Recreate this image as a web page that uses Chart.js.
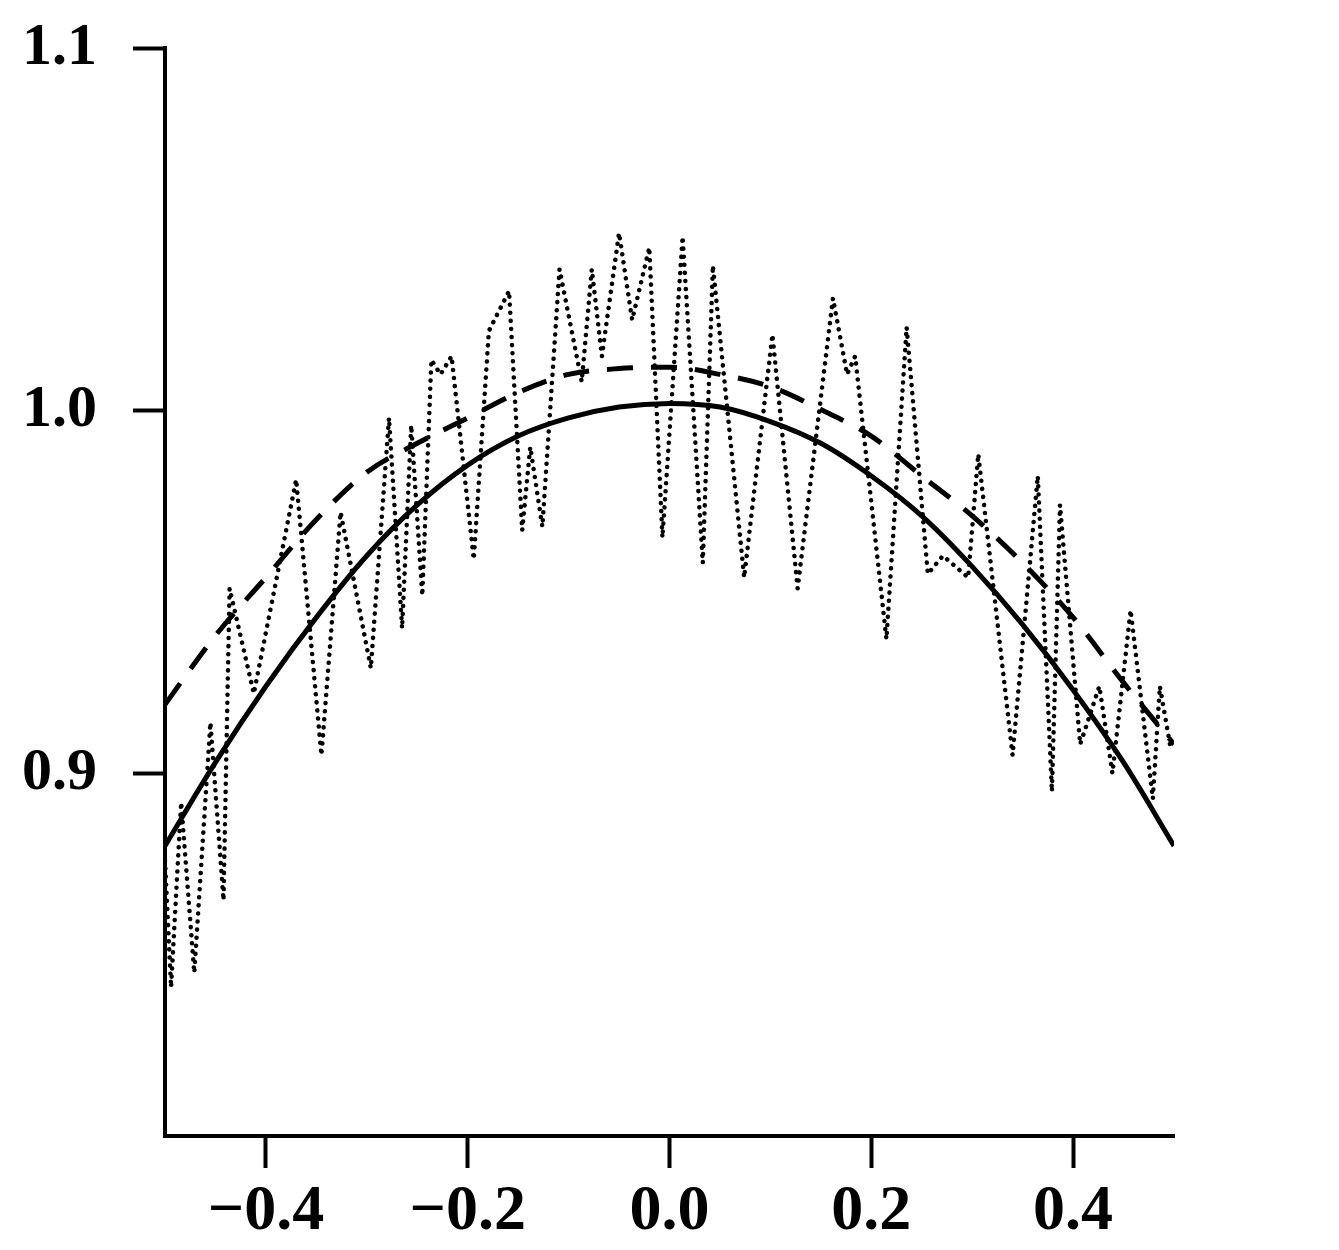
<!DOCTYPE html>
<html>
<head>
<meta charset="utf-8">
<script src="https://cdn.jsdelivr.net/npm/chart.js@4"></script>
<style>
    html, body { margin: 0; padding: 0; background: #fff; }
    canvas { display: block; }
</style>
</head>
<body>
<canvas id="curveChart" width="1339" height="1250"></canvas>
<script>
const gridX = [-0.5, -0.45, -0.4, -0.35, -0.3, -0.25, -0.2, -0.15, -0.1, -0.05, 0,
               0.05, 0.1, 0.15, 0.2, 0.25, 0.3, 0.35, 0.4, 0.45, 0.5];
const solidY = [0.880, 0.903, 0.924, 0.943, 0.960, 0.974, 0.985, 0.993, 0.998, 1.001, 1.002,
                1.001, 0.997, 0.991, 0.982, 0.971, 0.957, 0.941, 0.923, 0.903, 0.880];
const dashedY = [0.919, 0.938, 0.954, 0.970, 0.983, 0.991, 0.998, 1.005, 1.010, 1.0116, 1.012,
                 1.010, 1.0066, 1.0003, 0.993, 0.982, 0.971, 0.958, 0.943, 0.925, 0.908];
const dottedX = [-0.500, -0.494, -0.484, -0.471, -0.455, -0.442, -0.436, -0.412, -0.370, -0.345,
                 -0.326, -0.296, -0.278, -0.265, -0.256, -0.245, -0.236, -0.227, -0.216, -0.194,
                 -0.179, -0.159, -0.146, -0.138, -0.126, -0.109, -0.087, -0.077, -0.067, -0.050,
                 -0.037, -0.020, -0.007, 0.013, 0.033, 0.043, 0.074, 0.102, 0.127, 0.162,
                 0.176, 0.184, 0.215, 0.235, 0.256, 0.271, 0.296, 0.306, 0.340, 0.365,
                 0.379, 0.387, 0.407, 0.426, 0.439, 0.457, 0.479, 0.486, 0.496];
const dottedY = [0.876, 0.841, 0.892, 0.845, 0.914, 0.865, 0.951, 0.922, 0.981, 0.905,
                 0.972, 0.929, 0.998, 0.940, 0.996, 0.949, 1.014, 1.010, 1.015, 0.959,
                 1.022, 1.033, 0.967, 0.990, 0.968, 1.039, 1.008, 1.039, 1.015, 1.049,
                 1.025, 1.045, 0.965, 1.048, 0.958, 1.040, 0.954, 1.021, 0.951, 1.031,
                 1.010, 1.015, 0.937, 1.023, 0.955, 0.960, 0.954, 0.988, 0.905, 0.982,
                 0.895, 0.974, 0.908, 0.924, 0.900, 0.945, 0.893, 0.924, 0.908];
const xTicks = [-0.4, -0.2, 0, 0.2, 0.4];
const xTickLabels = ['\u22120.4', '\u22120.2', '0.0', '0.2', '0.4'];
const yTicks = [0.9, 1.0, 1.1];
const yTickLabels = ['0.9', '1.0', '1.1'];

function toPoints(xs, ys) {
    return xs.map((x, i) => ({ x: x, y: ys[i] }));
}

class CurveChart {
    constructor() {
        this.canvas = document.getElementById('curveChart');
        this.ctx = this.canvas.getContext('2d');
        this.chart = null;
        this.initChart();
    }

    initChart() {
        const chartData = {
            datasets: [
                {
                    label: 'dotted',
                    data: toPoints(dottedX, dottedY),
                    showLine: true,
                    borderColor: '#000',
                    borderWidth: 4.5,
                    borderDash: [0.1, 8],
                    borderCapStyle: 'round',
                    pointRadius: 0,
                    tension: 0
                },
                {
                    label: 'dashed',
                    data: toPoints(gridX, dashedY),
                    showLine: true,
                    borderColor: '#000',
                    borderWidth: 5,
                    borderDash: [26, 18],
                    pointRadius: 0,
                    cubicInterpolationMode: 'monotone'
                },
                {
                    label: 'solid',
                    data: toPoints(gridX, solidY),
                    showLine: true,
                    borderColor: '#000',
                    borderWidth: 5,
                    pointRadius: 0,
                    cubicInterpolationMode: 'monotone'
                }
            ]
        };

        const chartOptions = {
            responsive: false,
            animation: false,
            layout: {
                padding: { top: 48, right: 165, left: 0, bottom: 0 }
            },
            scales: {
                x: {
                    type: 'linear',
                    min: -0.5,
                    max: 0.5,
                    afterBuildTicks: (scale) => {
                        scale.ticks = xTicks.map(v => ({ value: v }));
                    },
                    afterFit: (scale) => {
                        scale.height = 114;
                        scale.paddingLeft = 0;
                        scale.paddingRight = 0;
                    },
                    grid: {
                        drawOnChartArea: false,
                        drawTicks: true,
                        tickLength: 32,
                        tickWidth: 4,
                        tickColor: '#000'
                    },
                    border: {
                        display: true,
                        color: '#000',
                        width: 4
                    },
                    ticks: {
                        padding: 6,
                        color: '#000',
                        maxRotation: 0,
                        font: {
                            family: 'Liberation Serif',
                            size: 64,
                            weight: 'bold'
                        },
                        callback: function(value, index) {
                            return xTickLabels[index];
                        }
                    }
                },
                y: {
                    type: 'linear',
                    min: 0.8,
                    max: 1.1,
                    afterBuildTicks: (scale) => {
                        scale.ticks = yTicks.map(v => ({ value: v }));
                    },
                    afterFit: (scale) => {
                        scale.width = 165;
                        scale.paddingTop = 0;
                        scale.paddingBottom = 0;
                    },
                    grid: {
                        drawOnChartArea: false,
                        drawTicks: true,
                        tickLength: 32,
                        tickWidth: 4,
                        tickColor: '#000'
                    },
                    border: {
                        display: true,
                        color: '#000',
                        width: 4
                    },
                    ticks: {
                        padding: 36,
                        color: '#000',
                        font: {
                            family: 'Liberation Serif',
                            size: 60,
                            weight: 'bold'
                        },
                        callback: function(value, index) {
                            return yTickLabels[index];
                        }
                    }
                }
            },
            plugins: {
                legend: { display: false },
                tooltip: { enabled: false }
            }
        };

        this.chart = new Chart(this.ctx, {
            type: 'scatter',
            data: chartData,
            options: chartOptions
        });
    }
}

new CurveChart();
</script>
</body>
</html>
